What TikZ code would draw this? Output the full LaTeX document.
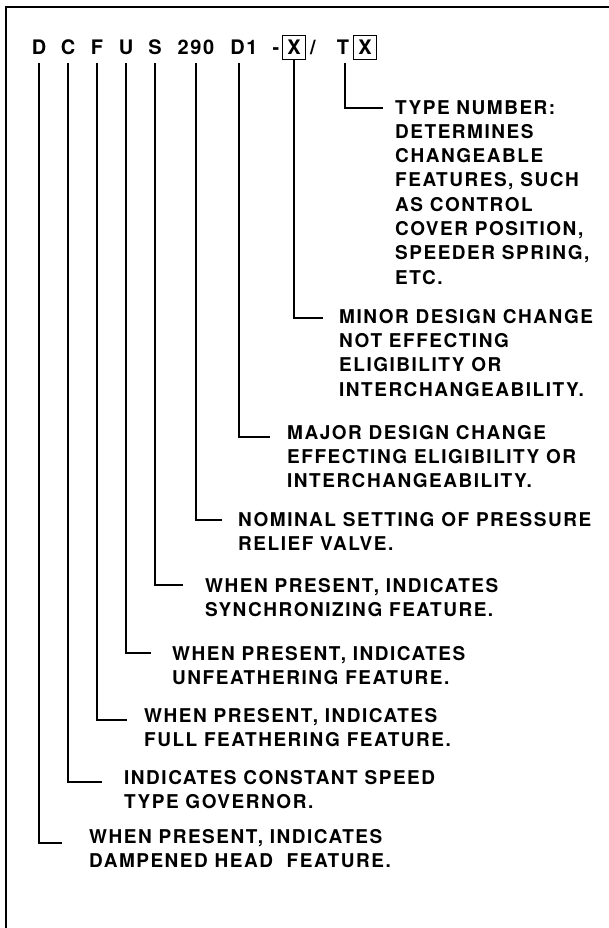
\documentclass[tikz,border=0pt]{standalone}
\usepackage{fontspec}
\newfontfamily\govfont[LetterSpace=8]{TeX Gyre Heros}
\usetikzlibrary{positioning}

\begin{document}
\begin{tikzpicture}[x=1pt,y=-1pt,
	code/.style={font=\govfont\bfseries\fontsize{20}{22}\selectfont,inner sep=0,text height=14.4pt,text depth=0pt,anchor=base},
	xbox/.style={code,draw,line width=1pt,inner xsep=4.5pt,inner ysep=5pt},
	lead/.style={line width=1.5pt},
	lbl/.style={font=\govfont\bfseries\fontsize{19}{24.3}\selectfont,inner sep=0,align=left,anchor=north west}]
	\useasboundingbox (0,0) rectangle (609,928);
	\draw[line width=2.5pt] (609,7) -- (6,7) -- (6,928);
	% designation
	\foreach \n/\t/\x in {D/D/39,C/C/68,F/F/97,U/U/126,S/S/155,290/290/196,Done/D1/244}
		\node[code] (c\n) at (\x,55) {\t};
	\node[code] (dash) at (276,55) {-};
	\node[xbox] (cX) at (294,55) {X};
	\node[code] (slash) at (313,55) {/};
	\node[code] (cT) at (343,55) {T};
	\node[xbox] (cTX) at (365,55) {X};
	% leaders
	\foreach \n/\bx/\by in {D/62/843,C/102/782,F/127/720,U/151/653,S/183/585,290/222/520}{
		\coordinate (k\n) at (\bx,\by);
		\draw[lead] ([yshift=-8pt]c\n.south) |- (k\n);
	}
	\coordinate (kDone) at (270,437);
	\draw[lead] ([xshift=-5pt,yshift=-8pt]cDone.south) |- (kDone);
	\coordinate (kX) at (323,318);
	\draw[lead] (cX.south) |- (kX);
	\coordinate (kT) at (383,108);
	\draw[lead] ([xshift=2pt,yshift=-8pt]cT.south) |- (kT);
	% texts
	\node[lbl] (lT) at (395,100) {TYPE NUMBER:\\DETERMINES\\CHANGEABLE\\FEATURES, SUCH\\AS CONTROL\\COVER POSITION,\\SPEEDER SPRING,\\ETC.};
	\node[lbl] (lX) at (339,309) {MINOR DESIGN CHANGE\\NOT EFFECTING\\ELIGIBILITY OR\\INTERCHANGEABILITY.};
	\node[lbl] (lDone) at (287,425) {MAJOR DESIGN CHANGE\\EFFECTING ELIGIBILITY OR\\INTERCHANGEABILITY.};
	\node[lbl] (l290) at (238,512) {NOMINAL SETTING OF PRESSURE\\RELIEF VALVE.};
	\node[lbl] (lS) at (205,578) {WHEN PRESENT, INDICATES\\SYNCHRONIZING FEATURE.};
	\node[lbl] (lU) at (172,646) {WHEN PRESENT, INDICATES\\UNFEATHERING FEATURE.};
	\node[lbl] (lF) at (144,708) {WHEN PRESENT, INDICATES\\FULL FEATHERING FEATURE.};
	\node[lbl] (lC) at (124,770) {INDICATES CONSTANT SPEED\\TYPE GOVERNOR.};
	\node[lbl] (lD) at (89,829) {WHEN PRESENT, INDICATES\\DAMPENED HEAD~~FEATURE.};
\end{tikzpicture}
\end{document}
